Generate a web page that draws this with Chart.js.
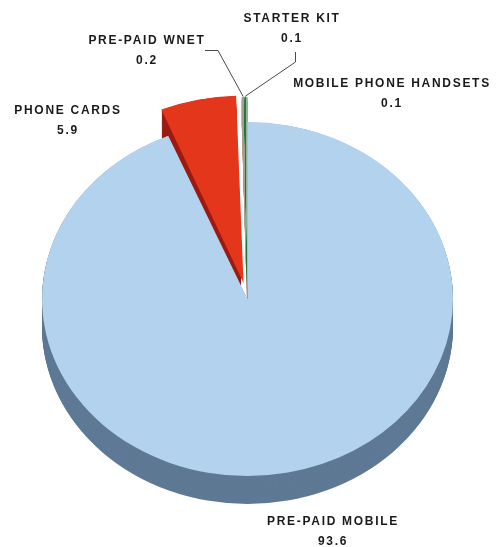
<!DOCTYPE html>
<html>
<head>
<meta charset="utf-8">
<script src="https://cdn.jsdelivr.net/npm/chart.js@4/dist/chart.umd.min.js"></script>
<style>
  html, body { margin: 0; padding: 0; background: #fff; }
  #wrap { position: relative; width: 497px; height: 547px; overflow: hidden; }
  canvas { position: absolute; left: 0; top: 0; }
  .lbl { position: absolute; transform: translateX(-50%); text-align: center; white-space: nowrap;
         font-family: "Liberation Sans", Arial, sans-serif; font-weight: bold; font-size: 12px;
         letter-spacing: 1.7px; line-height: 20px; color: #1a1a1a; }
</style>
</head>
<body>
<div id="wrap">
  <canvas id="c" width="497" height="547"></canvas>
</div>
<script>
// ---- data ----
const categories = ['PRE-PAID MOBILE', 'PHONE CARDS', 'PRE-PAID WNET', 'STARTER KIT', 'MOBILE PHONE HANDSETS'];
const values = [93.6, 5.9, 0.2, 0.1, 0.1];
const valueLabels = ['93.6', '5.9', '0.2', '0.1', '0.1'];

// ---- styles / layout ----
const faceColors = ['#B2D2EE', '#E3361B', '#E9E2D6', '#43A85E', '#D6EDD8'];
const sideColors = ['#5E7995', '#9C1B12', '#A89F90', '#2B7540', '#8FB596'];
const offsets = [0, 76, 60, 60, 60];
const labelPos = [[333, 511], [68, 100], [147, 30], [292, 8], [392, 73]];
const SY = 177 / 205.5;
const DEPTH = 28;

function arcGeom(arc) {
  const p = arc.getProps(['startAngle', 'endAngle', 'outerRadius', 'x', 'y'], true);
  const o = arc.options.offset || 0;
  const circ = p.endAngle - p.startAngle;
  const half = (p.startAngle + p.endAngle) / 2;
  const fix = 1 - Math.sin(Math.min(Math.PI, circ));
  const t = o / 4 * (1 + fix);
  return { ...p, half, ox: p.x + Math.cos(half) * t, oy: p.y + Math.sin(half) * t };
}

const tilt = {
  id: 'tilt',
  beforeDatasetsDraw(chart) {
    const ctx = chart.ctx;
    const meta = chart.getDatasetMeta(0);
    const cx = meta.data[0].x, cy = meta.data[0].y;
    ctx.save();
    ctx.translate(cx, cy); ctx.scale(1, SY); ctx.translate(-cx, -cy);
    const d = DEPTH / SY;
    meta.data.forEach((arc, i) => {
      const g = arcGeom(arc);
      ctx.fillStyle = sideColors[i];
      for (let k = d; k > 0; k -= 1) {
        ctx.beginPath();
        ctx.moveTo(g.ox, g.oy + k);
        ctx.arc(g.ox, g.oy + k, g.outerRadius, g.startAngle, g.endAngle);
        ctx.closePath();
        ctx.fill();
      }
    });
  },
  afterDatasetsDraw(chart) {
    chart.ctx.restore();
  },
  afterDraw(chart) {
    const ctx = chart.ctx;
    const meta = chart.getDatasetMeta(0);
    const cy = meta.data[0].y;
    const tip = (i) => {
      const g = arcGeom(meta.data[i]);
      const px = g.ox + Math.cos(g.half) * g.outerRadius;
      const py = g.oy + Math.sin(g.half) * g.outerRadius;
      return [px, cy + (py - cy) * SY];
    };
    ctx.save();
    ctx.strokeStyle = '#4a4a4a';
    ctx.lineWidth = 1;
    const w = tip(2);
    ctx.beginPath();
    ctx.moveTo(205, 50.5); ctx.lineTo(218, 50.5); ctx.lineTo(w[0], w[1]);
    ctx.stroke();
    const s = tip(3);
    ctx.beginPath();
    ctx.moveTo(295.5, 52); ctx.lineTo(295.5, 62); ctx.lineTo(s[0], s[1]);
    ctx.stroke();
    ctx.restore();
  }
};

new Chart(document.getElementById('c'), {
  type: 'pie',
  data: {
    labels: categories,
    datasets: [{
      data: values,
      backgroundColor: faceColors,
      borderWidth: 0,
      offset: offsets,
      radius: 205.5,
      clip: false
    }]
  },
  options: {
    responsive: false,
    animation: false,
    events: [],
    layout: { padding: { left: 0, right: 2, top: 51, bottom: 0 } },
    plugins: { legend: { display: false }, tooltip: { enabled: false } }
  },
  plugins: [tilt]
});

// HTML labels (real text)
const wrap = document.getElementById('wrap');
categories.forEach((c, i) => {
  const d = document.createElement('div');
  d.className = 'lbl';
  d.style.left = labelPos[i][0] + 'px';
  d.style.top = labelPos[i][1] + 'px';
  d.innerHTML = c + '<br>' + valueLabels[i];
  wrap.appendChild(d);
});
</script>
</body>
</html>
